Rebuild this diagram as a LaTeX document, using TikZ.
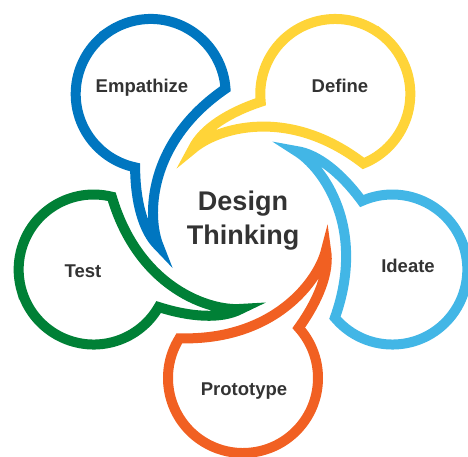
\documentclass[tikz,border=0pt]{standalone}
\usepackage{fontspec}
\setmainfont{Liberation Sans}
\definecolor{cEmpath}{RGB}{0,118,192}
\definecolor{cDefine}{RGB}{255,212,56}
\definecolor{cIdeate}{RGB}{66,182,230}
\definecolor{cProto}{RGB}{241,96,34}
\definecolor{cTest}{RGB}{0,128,54}
\definecolor{txt}{RGB}{51,51,51}
\begin{document}
\begin{tikzpicture}[x=1pt,y=1pt,
  bubble/.style={line width=10pt, line join=miter, miter limit=10},
  lbl/.style={font=\bfseries\fontsize{18.5}{22}\selectfont, text=txt, inner sep=0, anchor=base},
  ctr/.style={font=\bfseries\fontsize{27}{34}\selectfont, text=txt, inner sep=0, align=center}
]
\useasboundingbox (-243,-236) rectangle (225,221);
\foreach \k/\c in {0/cProto,1/cIdeate,2/cDefine,3/cEmpath,4/cTest}{
  \begin{scope}[rotate=72*\k]
    \draw[bubble, draw=\c] (0,-232) arc[start angle=270, end angle=402, radius=75]
      .. controls (75,-80) and (87,-51) .. (83,-29)
      .. controls (76,-59) and (32,-120) .. (-63.6,-117.3)
      arc[start angle=148, end angle=270, radius=75] -- cycle;
  \end{scope}
}
\node[lbl] (empathize) at (-101,128) {Empathize};
\node[lbl] (define) at (97,128) {Define};
\node[lbl] (ideate) at (165,-52) {Ideate};
\node[lbl] (prototype) at (1,-174) {Prototype};
\node[lbl] (test) at (-160,-57) {Test};
\node[ctr] (design) at (0,0) {Design\\Thinking};
\end{tikzpicture}
\end{document}
